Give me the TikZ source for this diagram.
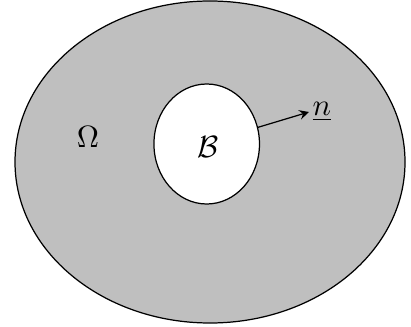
\documentclass[tikz,border=0pt]{standalone}
\usetikzlibrary{shapes.geometric}
\begin{document}
\begin{tikzpicture}[x=0.325pt, y=-0.325pt]
    \useasboundingbox (0,0) rectangle (411,326);
    \filldraw[fill=black!25, line width=0.4pt] (210,162) ellipse [x radius=195, y radius=161];
    \node[ellipse, draw, fill=white, inner sep=0pt, minimum width=34.3pt, minimum height=39pt,
      line width=0.4pt] (B) at (206.7,144) {};
    \node at (208,147) {$\mathcal{B}$};
    \node (Om) at (88,137) {$\Omega$};
    \node[anchor=west, inner sep=1pt] (n) at (309,112) {$\underline{n}$};
    \draw[-stealth, line width=0.4pt] (B.18) -- (n.west);
  \end{tikzpicture}
\end{document}
